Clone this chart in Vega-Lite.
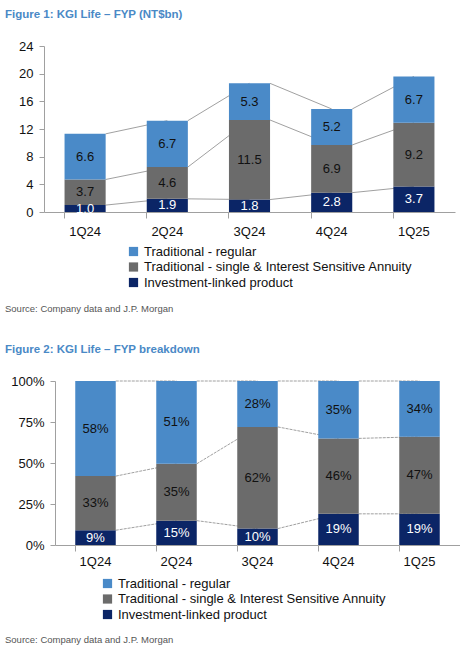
{
  "$schema": "https://vega.github.io/schema/vega-lite/v6.json",
  "padding": {"left": 5, "top": 8, "right": 0, "bottom": 5},
  "background": "white",
  "datasets": {
    "fyp": [
      {"q": "1Q24", "n": 1, "s": "Investment-linked product", "k": 1, "v": 1.0},
      {"q": "1Q24", "n": 1, "s": "Traditional - single & Interest Sensitive Annuity", "k": 2, "v": 3.7},
      {"q": "1Q24", "n": 1, "s": "Traditional - regular", "k": 3, "v": 6.6},
      {"q": "2Q24", "n": 2, "s": "Investment-linked product", "k": 1, "v": 1.9},
      {"q": "2Q24", "n": 2, "s": "Traditional - single & Interest Sensitive Annuity", "k": 2, "v": 4.6},
      {"q": "2Q24", "n": 2, "s": "Traditional - regular", "k": 3, "v": 6.7},
      {"q": "3Q24", "n": 3, "s": "Investment-linked product", "k": 1, "v": 1.8},
      {"q": "3Q24", "n": 3, "s": "Traditional - single & Interest Sensitive Annuity", "k": 2, "v": 11.5},
      {"q": "3Q24", "n": 3, "s": "Traditional - regular", "k": 3, "v": 5.3},
      {"q": "4Q24", "n": 4, "s": "Investment-linked product", "k": 1, "v": 2.8},
      {"q": "4Q24", "n": 4, "s": "Traditional - single & Interest Sensitive Annuity", "k": 2, "v": 6.9},
      {"q": "4Q24", "n": 4, "s": "Traditional - regular", "k": 3, "v": 5.2},
      {"q": "1Q25", "n": 5, "s": "Investment-linked product", "k": 1, "v": 3.7},
      {"q": "1Q25", "n": 5, "s": "Traditional - single & Interest Sensitive Annuity", "k": 2, "v": 9.2},
      {"q": "1Q25", "n": 5, "s": "Traditional - regular", "k": 3, "v": 6.7}
    ],
    "mix": [
      {"q": "1Q24", "n": 1, "s": "Investment-linked product", "k": 1, "p": 0.09},
      {"q": "1Q24", "n": 1, "s": "Traditional - single & Interest Sensitive Annuity", "k": 2, "p": 0.33},
      {"q": "1Q24", "n": 1, "s": "Traditional - regular", "k": 3, "p": 0.58},
      {"q": "2Q24", "n": 2, "s": "Investment-linked product", "k": 1, "p": 0.15},
      {"q": "2Q24", "n": 2, "s": "Traditional - single & Interest Sensitive Annuity", "k": 2, "p": 0.35},
      {"q": "2Q24", "n": 2, "s": "Traditional - regular", "k": 3, "p": 0.51},
      {"q": "3Q24", "n": 3, "s": "Investment-linked product", "k": 1, "p": 0.10},
      {"q": "3Q24", "n": 3, "s": "Traditional - single & Interest Sensitive Annuity", "k": 2, "p": 0.62},
      {"q": "3Q24", "n": 3, "s": "Traditional - regular", "k": 3, "p": 0.28},
      {"q": "4Q24", "n": 4, "s": "Investment-linked product", "k": 1, "p": 0.19},
      {"q": "4Q24", "n": 4, "s": "Traditional - single & Interest Sensitive Annuity", "k": 2, "p": 0.46},
      {"q": "4Q24", "n": 4, "s": "Traditional - regular", "k": 3, "p": 0.35},
      {"q": "1Q25", "n": 5, "s": "Investment-linked product", "k": 1, "p": 0.19},
      {"q": "1Q25", "n": 5, "s": "Traditional - single & Interest Sensitive Annuity", "k": 2, "p": 0.47},
      {"q": "1Q25", "n": 5, "s": "Traditional - regular", "k": 3, "p": 0.34}
    ]
  },
  "config": {
    "font": "Liberation Sans, Arial, sans-serif",
    "view": {"stroke": null},
    "title": {"anchor": "start", "fontSize": 11.5, "fontWeight": "bold", "color": "#4a89c6"},
    "axis": {
      "title": null, "grid": false, "domainColor": "#a0a0a0", "tickColor": "#a0a0a0",
      "labelFontSize": 13, "labelColor": "#111111", "tickSize": 5, "labelOverlap": false
    },
    "legend": {
      "title": null, "symbolType": "square", "symbolSize": 85, "symbolStrokeWidth": 0,
      "labelFontSize": 13, "labelColor": "#111111", "labelLimit": 400, "rowPadding": 1.5, "labelOffset": 4
    }
  },
  "concat": [
    {
      "title": {"text": "Source: Company data and J.P. Morgan", "orient": "bottom", "anchor": "start", "fontSize": 9.5, "fontWeight": "normal", "color": "#555555", "offset": 14},
      "vconcat": [
        {
          "title": {"text": "Figure 1: KGI Life – FYP (NT$bn)", "offset": 20},
          "width": 400,
          "height": 166,
          "data": {"name": "fyp"},
          "encoding": {
            "x": {"field": "q", "type": "nominal", "scale": {"domain": ["1Q24", "2Q24", "3Q24", "4Q24", "1Q25"], "range": [-11, 400], "paddingInner": 0.5, "paddingOuter": 0.25},
                  "axis": {"bandPosition": 0, "labelAngle": 0, "labelPadding": 7, "tickSize": 6}}
          },
          "layer": [
            {
              "transform": [
                {"stack": "v", "groupby": ["q"], "sort": [{"field": "k"}], "as": ["y0", "y1"]},
                {"window": [{"op": "lead", "field": "q", "as": "q2"}, {"op": "lead", "field": "y1", "as": "y2"}], "groupby": ["s"], "sort": [{"field": "n"}]},
                {"filter": "datum.q2 != null"}
              ],
              "mark": {"type": "rule", "color": "#888888", "strokeWidth": 0.8},
              "encoding": {
                "x": {"field": "q", "type": "nominal", "bandPosition": 1},
                "x2": {"field": "q2"},
                "y": {"field": "y1", "type": "quantitative", "scale": {"domain": [0, 24]},
                      "axis": {"values": [0, 4, 8, 12, 16, 20, 24], "offset": 11, "minExtent": 39, "labelPadding": 6, "tickSize": 5}},
                "y2": {"field": "y2"}
              }
            },
            {
              "mark": {"type": "bar"},
              "encoding": {
                "y": {"field": "v", "type": "quantitative", "stack": "zero", "scale": {"domain": [0, 24]},
                      "axis": {"values": [0, 4, 8, 12, 16, 20, 24], "offset": 11, "minExtent": 39, "labelPadding": 6, "tickSize": 5}},
                "color": {"field": "s", "type": "nominal",
                          "scale": {"domain": ["Traditional - regular", "Traditional - single & Interest Sensitive Annuity", "Investment-linked product"],
                                    "range": ["#4a8ac8", "#6b6b6b", "#0b2566"]},
                          "legend": {"orient": "none", "legendX": 72, "legendY": 199}},
                "order": {"field": "k", "type": "quantitative"}
              }
            },
            {
              "mark": {"type": "text", "fontSize": 13},
              "encoding": {
                "y": {"field": "v", "type": "quantitative", "stack": "zero", "bandPosition": 0.5, "scale": {"domain": [0, 24]},
                      "axis": {"values": [0, 4, 8, 12, 16, 20, 24], "offset": 11, "minExtent": 39, "labelPadding": 6, "tickSize": 5}},
                "order": {"field": "k", "type": "quantitative"},
                "text": {"field": "v", "type": "quantitative", "format": ".1f"},
                "color": {"condition": {"test": "datum.k == 1", "value": "#ffffff"}, "value": "#111111"}
              }
            }
          ]
        }
      ]
    },
    {
      "title": {"text": "Source: Company data and J.P. Morgan", "orient": "bottom", "anchor": "start", "fontSize": 9.5, "fontWeight": "normal", "color": "#555555", "offset": 13},
      "vconcat": [
        {
          "title": {"text": "Figure 2: KGI Life – FYP breakdown", "offset": 20},
          "width": 405,
          "height": 164,
          "data": {"name": "mix"},
          "encoding": {
            "x": {"field": "q", "type": "nominal", "scale": {"domain": ["1Q24", "2Q24", "3Q24", "4Q24", "1Q25"], "paddingInner": 0.5, "paddingOuter": 0.25},
                  "axis": {"bandPosition": 0, "labelAngle": 0, "labelPadding": 4, "tickSize": 6}}
          },
          "layer": [
            {
              "transform": [
                {"stack": "p", "groupby": ["q"], "sort": [{"field": "k"}], "offset": "normalize", "as": ["y0", "y1"]},
                {"window": [{"op": "lead", "field": "q", "as": "q2"}, {"op": "lead", "field": "y1", "as": "y2"}], "groupby": ["s"], "sort": [{"field": "n"}]},
                {"filter": "datum.q2 != null"}
              ],
              "mark": {"type": "rule", "color": "#888888", "strokeWidth": 0.8, "strokeDash": [3, 1]},
              "encoding": {
                "x": {"field": "q", "type": "nominal", "bandPosition": 1},
                "x2": {"field": "q2"},
                "y": {"field": "y1", "type": "quantitative", "scale": {"domain": [0, 1]},
                      "axis": {"values": [0, 0.25, 0.5, 0.75, 1], "format": ".0%", "minExtent": 50, "labelPadding": 6, "tickSize": 5}},
                "y2": {"field": "y2"}
              }
            },
            {
              "mark": {"type": "bar"},
              "encoding": {
                "y": {"field": "p", "type": "quantitative", "stack": "normalize", "scale": {"domain": [0, 1]},
                      "axis": {"values": [0, 0.25, 0.5, 0.75, 1], "format": ".0%", "minExtent": 50, "labelPadding": 6, "tickSize": 5}},
                "color": {"field": "s", "type": "nominal",
                          "scale": {"domain": ["Traditional - regular", "Traditional - single & Interest Sensitive Annuity", "Investment-linked product"],
                                    "range": ["#4a8ac8", "#6b6b6b", "#0b2566"]},
                          "legend": {"orient": "none", "legendX": 46, "legendY": 196}},
                "order": {"field": "k", "type": "quantitative"}
              }
            },
            {
              "mark": {"type": "text", "fontSize": 13},
              "encoding": {
                "y": {"field": "p", "type": "quantitative", "stack": "normalize", "bandPosition": 0.5, "scale": {"domain": [0, 1]},
                      "axis": {"values": [0, 0.25, 0.5, 0.75, 1], "format": ".0%", "minExtent": 50, "labelPadding": 6, "tickSize": 5}},
                "order": {"field": "k", "type": "quantitative"},
                "text": {"field": "p", "type": "quantitative", "format": ".0%"},
                "color": {"condition": {"test": "datum.k == 1", "value": "#ffffff"}, "value": "#111111"}
              }
            }
          ]
        }
      ]
    }
  ],
  "columns": 1,
  "align": "none",
  "spacing": 29,
  "resolve": {"scale": {"color": "independent"}, "legend": {"color": "independent"}}
}
